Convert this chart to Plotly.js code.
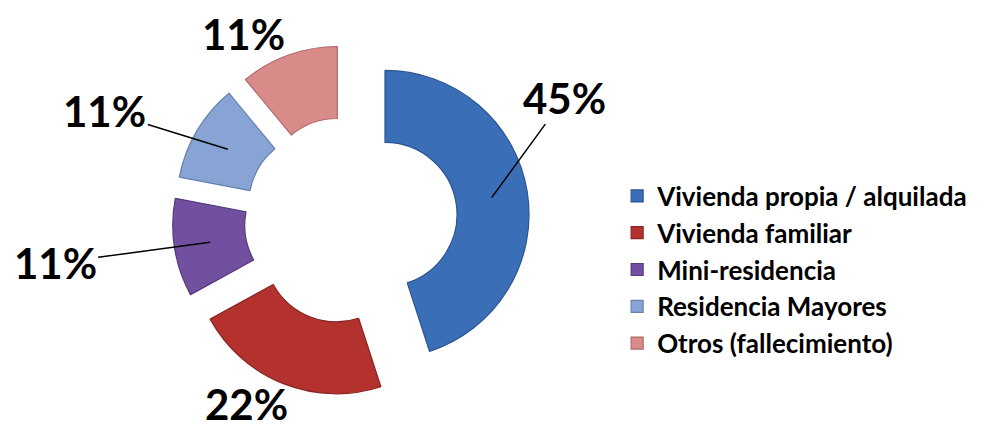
<!DOCTYPE html>
<html>
<head>
<meta charset="utf-8">
<script src="https://cdn.plot.ly/plotly-3.0.1.min.js"></script>
<style>
html,body{margin:0;padding:0;background:#fff;}
#chart{width:989px;height:432px;}
#chart .legendtext{font-weight:700 !important;}
</style>
</head>
<body>
<div id="chart"></div>
<script>
const categories = ["Vivienda propia / alquilada", "Vivienda familiar", "Mini-residencia", "Residencia Mayores", "Otros (fallecimiento)"];
const values = [45, 22, 11, 11, 11];
const percentLabels = ["45%", "22%", "11%", "11%", "11%"];

const colors = ["#3A6FB8", "#B4322E", "#7150A0", "#87A4D4", "#D98B8A"];
const borders = ["#2B5590", "#8A2421", "#56397D", "#6681AE", "#B06868"];
const pulls = [0.26, 0.22, 0.22, 0.22, 0.22];
const hole = 0.5;

const W = 989, H = 432;
const domX = [0.1684, 0.5354], domY = [0.0700, 0.9100];

// pie geometry as plotly computes it
const maxPull = Math.max(...pulls);
const boxW = W * (domX[1] - domX[0]), boxH = H * (domY[1] - domY[0]);
const R = Math.min(boxW, boxH) / (2 + 2 * maxPull);
const cx = W * (domX[0] + domX[1]) / 2;
const cy = H * (1 - domY[0]) - boxH / 2;
const total = values.reduce((a, b) => a + b, 0);

// label placement: [ax, ay, arrow] for leader-line labels, or [xshift, yshift, false]
const labelOffsets = [[73, -100, true], [-50, -54, false], [-155, 21, true], [-123, -38, true], [-57, 55, false]];

let cum = 0;
const annotations = values.map((v, i) => {
  const mid = (cum + v / 2) / total * 2 * Math.PI;
  cum += v;
  const s = Math.sin(mid), c = Math.cos(mid);
  const rr = (R * (1 + hole)) / 2 + pulls[i] * R;
  const px = cx + rr * s, py = cy - rr * c;
  const a = {
    xref: "paper", yref: "paper",
    x: px / W, y: 1 - py / H,
    xanchor: "center", yanchor: "middle",
    text: "<b>" + percentLabels[i] + "</b>",
    font: {family: "Lato, 'Open Sans', sans-serif", size: 42, color: "#000"},
    showarrow: labelOffsets[i][2]
  };
  if (a.showarrow) {
    a.ax = labelOffsets[i][0];
    a.ay = labelOffsets[i][1];
    a.arrowhead = 0;
    a.arrowwidth = 1.5;
    a.arrowcolor = "#000";
    a.standoff = 0;
  } else {
    a.xshift = labelOffsets[i][0];
    a.yshift = labelOffsets[i][1];
  }
  return a;
});

const trace = {
  type: "pie",
  labels: categories,
  values: values,
  hole: hole,
  pull: pulls,
  sort: false,
  direction: "clockwise",
  rotation: 0,
  textinfo: "none",
  marker: {colors: colors, line: {color: borders, width: 1.2}},
  domain: {x: domX, y: domY},
  hoverinfo: "label+percent"
};

const layout = {
  width: W, height: H,
  margin: {l: 0, r: 0, t: 0, b: 0},
  paper_bgcolor: "#fff",
  showlegend: true,
  legend: {
    x: 0.624, y: 0.375, xanchor: "left", yanchor: "middle",
    font: {family: "Lato, 'Open Sans', sans-serif", size: 26, color: "#000", weight: 700},
    bgcolor: "rgba(0,0,0,0)"
  },
  annotations: annotations
};

Plotly.newPlot("chart", [trace], layout, {displayModeBar: false, staticPlot: true});
</script>
</body>
</html>
